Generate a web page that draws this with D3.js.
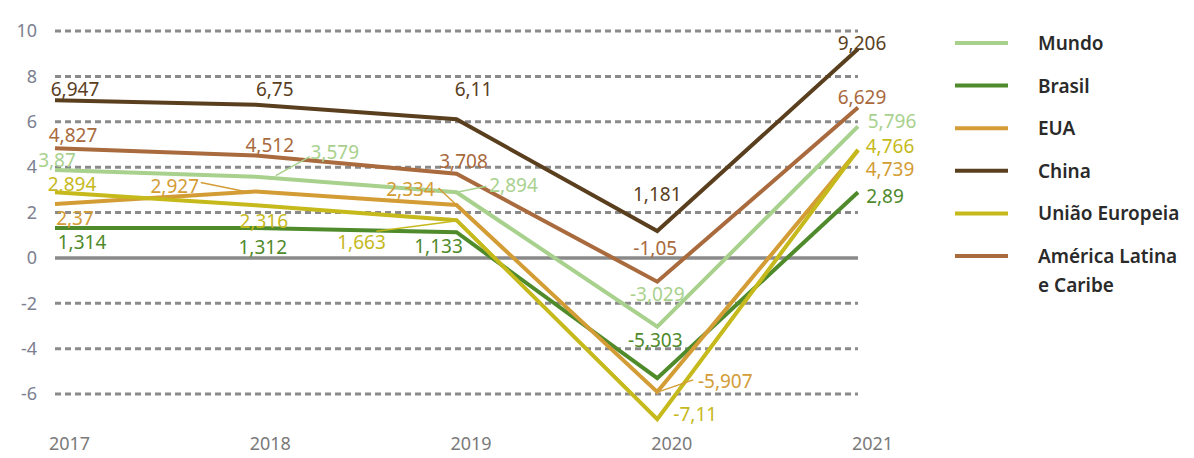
<!DOCTYPE html>
<html>
<head>
<meta charset="utf-8">
<script src="https://cdn.jsdelivr.net/npm/d3@7"></script>
<style>
  body { margin: 0; background: #ffffff; }
  text { font-family: "Noto Sans", sans-serif; }
</style>
</head>
<body>
<div id="canvas"></div>
<script>
/* DATA */
const years = ["2017", "2018", "2019", "2020", "2021"];
const yTicks = [10, 8, 6, 4, 2, 0, -2, -4, -6];

const mundo = [3.87, 3.579, 2.894, -3.029, 5.796];
const brasil = [1.314, 1.312, 1.133, -5.303, 2.89];
const eua = [2.37, 2.927, 2.334, -5.907, 4.739];
const china = [6.947, 6.75, 6.11, 1.181, 9.206];
const ue = [2.894, 2.316, 1.663, -7.11, 4.766];
const alc = [4.827, 4.512, 3.708, -1.05, 6.629];

const seriesNames = ["Mundo", "Brasil", "EUA", "China", "União Europeia", "América Latina e Caribe"];
const seriesValues = [mundo, brasil, eua, china, ue, alc];
const seriesColors = ["#a9d18e", "#4f8a2b", "#d39c35", "#5a3f1f", "#c6b91c", "#a96a3d"];

/* label offsets from each point: [dx, dy] of text centre, optional leader [x1, y1, x2, y2] */
const labelOffsets = [
    [[2, -10], [79, -25, [20, -1, 54, -20]], [57, -7, [0, 0, 30, -6]], [0, -33], [34, -5]],
    [[27, 14], [7, 19], [-18, 14], [-2, -38], [27, 4]],
    [[20, 14], [-81, -5, [-55, -9, -6, 1]], [-46, -16, [-18, -17, 0, 0]], [68, -11, [1, 0, 36, -12]], [32, 19]],
    [[20, -11], [19, -16], [17, -30], [0, -37], [4, -6]],
    [[17, -8], [8, 16], [-95, 22, [-80, 11, -3, 1]], [38, -5], [32, -4]],
    [[18, -13], [14, -11], [7, -13], [-2, -34], [4, -10]]
];

/* CREATE THE SVG CANVAS */
const width = 1194;
const height = 458;

const svg = d3.select("#canvas")
    .append("svg")
    .attr("width", width)
    .attr("height", height);

const x = d3.scalePoint()
    .domain(years)
    .range([55, 858]);

const y = d3.scaleLinear()
    .domain([-6, 10])
    .range([394, 31]);

/* GRID */
svg.selectAll(".grid")
    .data(yTicks)
    .enter()
    .append("line")
    .attr("x1", 55)
    .attr("x2", 858)
    .attr("y1", d => y(d))
    .attr("y2", d => y(d))
    .attr("stroke", "#8a8a8a")
    .attr("stroke-width", d => d === 0 ? 3.5 : 3)
    .attr("stroke-dasharray", d => d === 0 ? null : "6,4");

/* Y AXIS */
const yAxis = svg.append("g")
    .attr("transform", "translate(37,0)")
    .call(d3.axisLeft(y).tickValues(yTicks).tickFormat(d => String(d)).tickSize(0).tickPadding(0));
yAxis.select(".domain").remove();
yAxis.selectAll("text")
    .attr("font-family", "Noto Sans")
    .attr("font-size", 18)
    .attr("fill", "#7c8090");

/* X AXIS */
const xAxis = svg.append("g")
    .attr("transform", "translate(14,437)")
    .call(d3.axisBottom(x).tickSize(0).tickPadding(0));
xAxis.select(".domain").remove();
xAxis.selectAll("text")
    .attr("font-family", "Noto Sans")
    .attr("font-size", 18)
    .attr("fill", "#7a7a7a");

/* LINES */
const line = d3.line()
    .x((d, i) => x(years[i]))
    .y(d => y(d));

seriesValues.forEach(function(vals, s) {
    svg.append("path")
        .datum(vals)
        .attr("d", line)
        .attr("fill", "none")
        .attr("stroke", seriesColors[s])
        .attr("stroke-width", 4)
        .attr("stroke-linejoin", "miter");
});

/* LABELS */
seriesValues.forEach(function(vals, s) {
    vals.forEach(function(v, i) {
        const px = x(years[i]);
        const py = y(v);
        const off = labelOffsets[s][i];
        if (off[2]) {
            const l = off[2];
            svg.append("line")
                .attr("x1", px + l[0])
                .attr("y1", py + l[1])
                .attr("x2", px + l[2])
                .attr("y2", py + l[3])
                .attr("stroke", seriesColors[s])
                .attr("stroke-width", 1.5);
        }
        svg.append("text")
            .attr("x", px + off[0])
            .attr("y", py + off[1])
            .attr("text-anchor", "middle")
            .attr("dominant-baseline", "central")
            .attr("font-size", 19)
            .attr("fill", seriesColors[s])
            .text(String(v).replace(".", ","));
    });
});

/* LEGEND */
const legend = svg.append("g");
seriesNames.forEach(function(name, s) {
    const ly = 43 + s * 42.6;
    legend.append("line")
        .attr("x1", 955)
        .attr("x2", 1008)
        .attr("y1", ly)
        .attr("y2", ly)
        .attr("stroke", seriesColors[s])
        .attr("stroke-width", 4);
    const t = legend.append("text")
        .attr("x", 1038)
        .attr("y", ly)
        .attr("dominant-baseline", "central")
        .attr("font-size", 19)
        .attr("font-weight", 600)
        .attr("fill", "#2a2a2a");
    if (name === "América Latina e Caribe") {
        t.append("tspan").attr("x", 1038).text("América Latina");
        t.append("tspan").attr("x", 1038).attr("dy", 29).text("e Caribe");
    } else {
        t.text(name);
    }
});
</script>
</body>
</html>
